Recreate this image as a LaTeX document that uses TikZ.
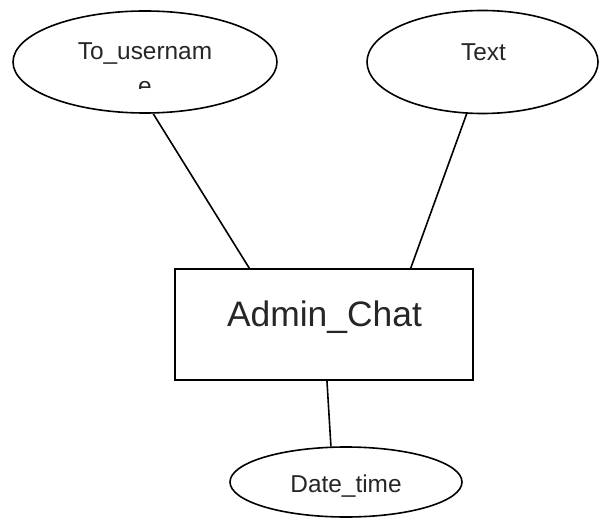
\documentclass[tikz,border=0pt]{standalone}
\usepackage{fontspec}
\setmainfont{Liberation Sans}
\usetikzlibrary{shapes.geometric}

\begin{document}
\begin{tikzpicture}[x=1pt, y=-1pt, line width=1.6pt,
    attr/.style={draw, ellipse, inner sep=0pt},
    entity/.style={draw, rectangle, inner sep=0pt},
    lbl/.style={anchor=base, inner sep=0pt, text=black!85, font=\fontsize{24.4}{29}\selectfont}]
    \useasboundingbox (0, 0) rectangle (609, 518);

    \node[attr, minimum width=264pt, minimum height=102pt] (user) at (145, 62) {};
    \node[lbl] (userlbl) at (145, 60) {To\_usernam};
    \begin{scope}
        \clip (0, 0) rectangle (300, 89);
        \node[lbl] (usere) at (145, 95) {e};
    \end{scope}

    \node[attr, minimum width=231pt, minimum height=103pt] (text) at (482.5, 62) {};
    \node[lbl] (textlbl) at (483.5, 61) {Text};

    \node[entity, minimum width=298pt, minimum height=111pt] (chat) at (324, 324.5) {};
    \node[lbl, font=\fontsize{35.4}{42}\selectfont] (chatlbl) at (324.5, 326) {Admin\_Chat};

    \node[attr, minimum width=232pt, minimum height=70pt] (date) at (346, 482) {};
    \node[lbl] (datelbl) at (346, 492) {Date\_time};

    \draw (user.-81) -- (chat.143);
    \draw (text.-107) -- (chat.33);
    \draw (chat.-87) -- (date.113);
    
\end{tikzpicture}
\end{document}
